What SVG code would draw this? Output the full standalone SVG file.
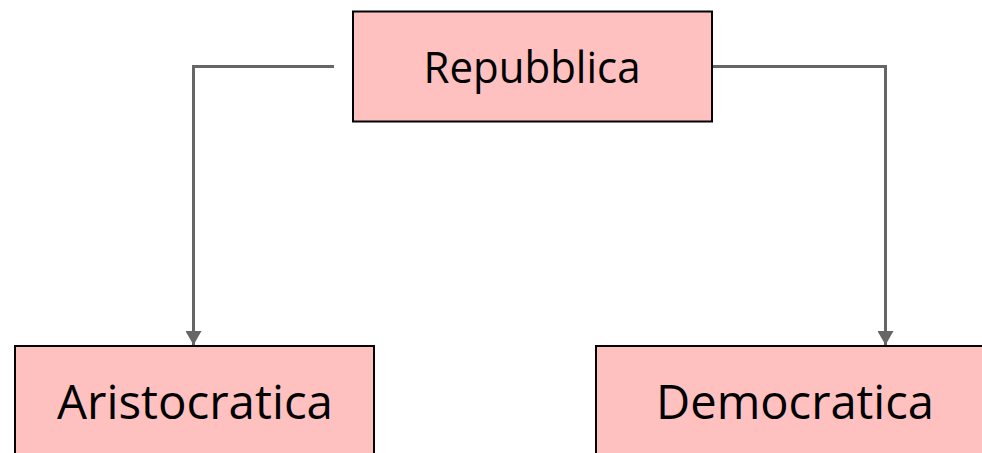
<svg xmlns="http://www.w3.org/2000/svg" width="982" height="453" viewBox="0 0 982 453">
<style>
.box{fill:#FFC0C0;stroke:#000;stroke-width:2}
.lbl{font-family:"Open Sans","Noto Sans","Liberation Sans",sans-serif;fill:#000;text-anchor:middle}
.conn{fill:none;stroke:#666;stroke-width:3}
</style>
<defs>
<marker id="arr" markerUnits="userSpaceOnUse" markerWidth="16" markerHeight="16" refX="14" refY="8" orient="auto">
<path d="M0,0 L14,8 L0,16 Z" fill="#666"/>
</marker>
</defs>
<rect width="982" height="453" fill="#fff"/>
<g id="connectors">
<path class="conn" d="M334,66.5 H193.5 V345" marker-end="url(#arr)"/>
<path class="conn" d="M712,66.5 H885.5 V345" marker-end="url(#arr)"/>
</g>
<g id="repubblica">
<rect class="box" x="353" y="11.5" width="359" height="110"/>
<text class="lbl" x="532" y="83" font-size="43" textLength="217" lengthAdjust="spacingAndGlyphs">Repubblica</text>
</g>
<g id="aristocratica">
<rect class="box" x="15" y="346" width="359" height="120"/>
<text class="lbl" x="195" y="419" font-size="47" textLength="276" lengthAdjust="spacingAndGlyphs">Aristocratica</text>
</g>
<g id="democratica">
<rect class="box" x="596" y="346" width="400" height="120"/>
<text class="lbl" x="795" y="419" font-size="47" textLength="278" lengthAdjust="spacingAndGlyphs">Democratica</text>
</g>
</svg>
